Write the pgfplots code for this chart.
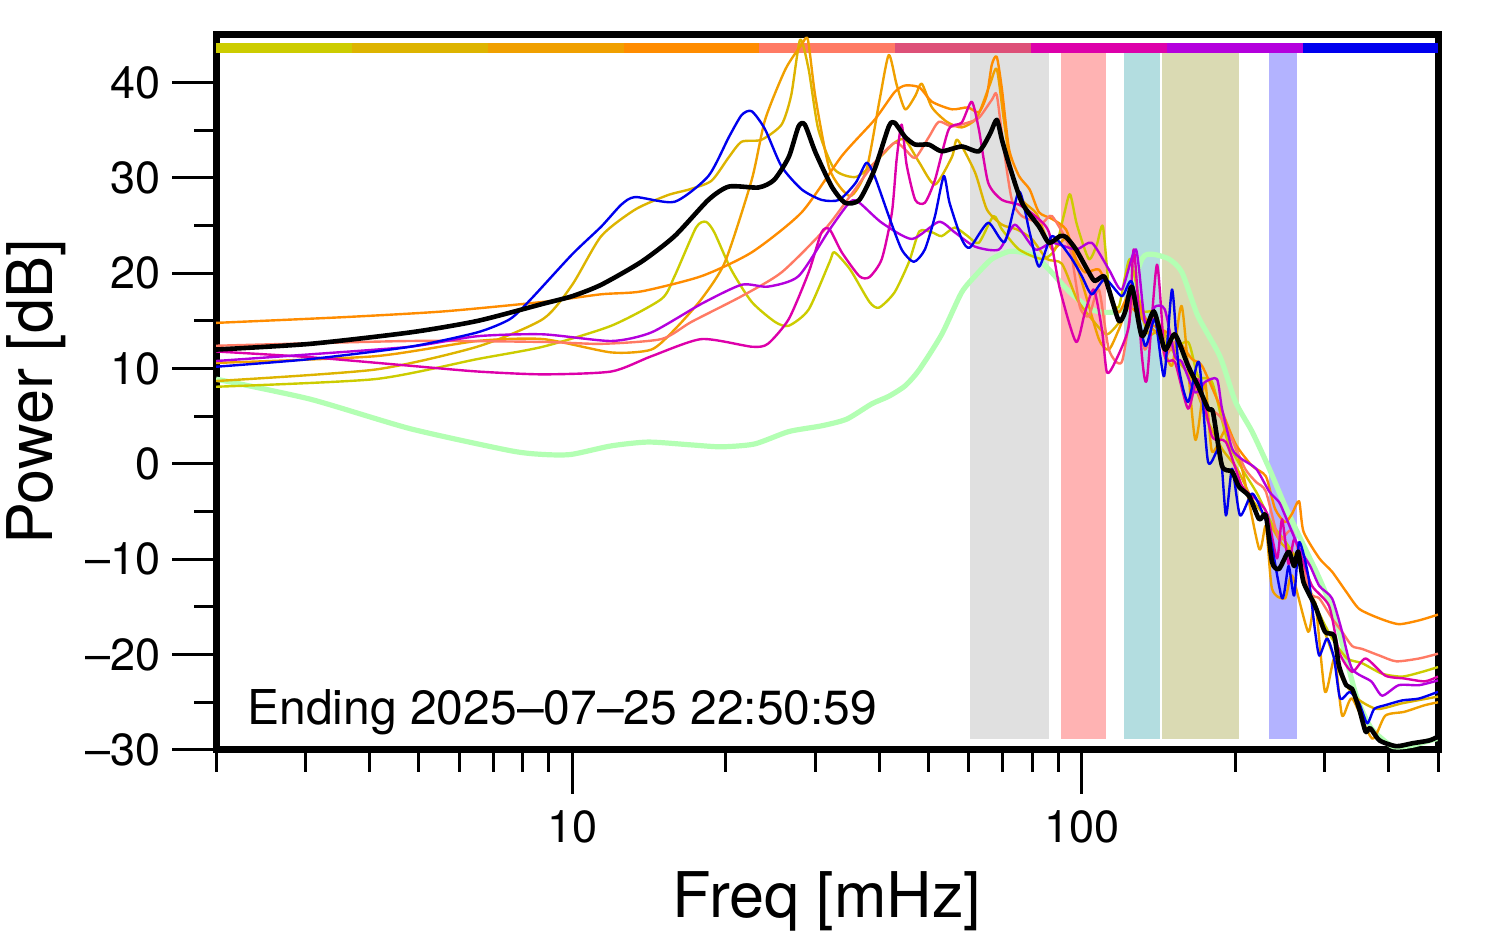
\documentclass[border=0pt]{standalone}
\usepackage{pgfplots}
\pgfplotsset{compat=1.18}
\usepackage{fontspec}
\setmainfont{TeX Gyre Heros}
\definecolor{cyg}{RGB}{204,204,0}
\definecolor{cgold}{RGB}{221,180,0}
\definecolor{corange}{RGB}{240,160,0}
\definecolor{cdorange}{RGB}{255,140,0}
\definecolor{csalmon}{RGB}{255,122,100}
\definecolor{cpinkred}{RGB}{221,80,120}
\definecolor{cmagenta}{RGB}{221,0,170}
\definecolor{cpurple}{RGB}{180,0,221}
\definecolor{cblue}{RGB}{0,0,238}
\definecolor{cgreen}{RGB}{179,255,179}
\definecolor{bgray}{RGB}{224,224,224}
\definecolor{bpink}{RGB}{255,179,179}
\definecolor{bteal}{RGB}{179,221,224}
\definecolor{bolive}{RGB}{218,218,179}
\definecolor{blav}{RGB}{179,179,255}
\begin{document}
\begin{tikzpicture}
\begin{axis}[
  scale only axis, width=611bp, height=358bp,
  xmode=log, xmin=2, xmax=500, ymin=-30, ymax=45.1,
  axis line style={line width=3.5bp},
  xtick={10,100}, xticklabels={10,100},
  minor xtick={2,3,4,5,6,7,8,9,20,30,40,50,60,70,80,90,200,300,400,500},
  ytick={-30,-20,-10,0,10,20,30,40},
  yticklabels={\textendash30,\textendash20,\textendash10,0,10,20,30,40},
  minor ytick={-25,-15,-5,5,15,25,35},
  tick align=outside, tick pos=left,
  major tick length=22bp, minor tick length=11bp,
  every tick/.style={black, line width=1.5bp},
  tick label style={font=\fontsize{22.5bp}{27bp}\selectfont},
  xticklabel style={yshift=-5bp},
  yticklabel style={xshift=-2bp},
  xlabel={Freq [mHz]}, ylabel={Power [dB]},
  label style={font=\fontsize{31.5bp}{36bp}\selectfont},
  xlabel style={at={(axis description cs:0.5,-0.2346)}, anchor=base},
  ylabel style={at={(axis description cs:-0.134,0.5)}, anchor=base, rotate=0},
  every axis plot/.append style={line join=round},
]
% shaded bands
\addplot[fill=bgray, draw=none] coordinates {(60.3,-28.8) (86.2,-28.8) (86.2,43.1) (60.3,43.1)} -- cycle;
\addplot[fill=bpink, draw=none] coordinates {(91,-28.8) (111.5,-28.8) (111.5,43.1) (91,43.1)} -- cycle;
\addplot[fill=bteal, draw=none] coordinates {(121,-28.8) (142.3,-28.8) (142.3,43.1) (121,43.1)} -- cycle;
\addplot[fill=bolive, draw=none] coordinates {(143.6,-28.8) (203.5,-28.8) (203.5,43.1) (143.6,43.1)} -- cycle;
\addplot[fill=blav, draw=none] coordinates {(233.3,-28.8) (264.5,-28.8) (264.5,43.1) (233.3,43.1)} -- cycle;
% colour bar
\addplot[fill=cyg, draw=none] coordinates {(2,43.1) (3.695,43.1) (3.695,44.2) (2,44.2)} -- cycle;
\addplot[fill=cgold, draw=none] coordinates {(3.695,43.1) (6.826,43.1) (6.826,44.2) (3.695,44.2)} -- cycle;
\addplot[fill=corange, draw=none] coordinates {(6.826,43.1) (12.61,43.1) (12.61,44.2) (6.826,44.2)} -- cycle;
\addplot[fill=cdorange, draw=none] coordinates {(12.61,43.1) (23.30,43.1) (23.30,44.2) (12.61,44.2)} -- cycle;
\addplot[fill=csalmon, draw=none] coordinates {(23.30,43.1) (43.04,43.1) (43.04,44.2) (23.30,44.2)} -- cycle;
\addplot[fill=cpinkred, draw=none] coordinates {(43.04,43.1) (79.52,43.1) (79.52,44.2) (43.04,44.2)} -- cycle;
\addplot[fill=cmagenta, draw=none] coordinates {(79.52,43.1) (146.9,43.1) (146.9,44.2) (79.52,44.2)} -- cycle;
\addplot[fill=cpurple, draw=none] coordinates {(146.9,43.1) (271.4,43.1) (271.4,44.2) (146.9,44.2)} -- cycle;
\addplot[fill=cblue, draw=none] coordinates {(271.4,43.1) (500,43.1) (500,44.2) (271.4,44.2)} -- cycle;
% light green
\addplot[cgreen, line width=2.6bp, smooth, tension=0.4] coordinates {
(2.0,8.9) (3.06,6.8) (4.81,3.7) (7.55,1.4) (8.76,1.0) (9.95,1.0) (11.93,1.9) (14.1,2.3) (17.13,2.0) (19.63,1.8) (22.8,2.1) (26.6,3.4) (30.85,4.0) (34.55,4.7) (38.69,6.3) (41.8,7.1) (45.0,8.2) (48.0,9.9) (53.1,13.6) (58.1,18.0) (62.2,19.9) (66.6,21.5) (72.0,22.3) (76.3,22.2) (81.0,21.8) (86.2,20.4) (94.8,18.0) (104.6,16.2) (113.0,15.9) (121.5,16.5) (131.2,21.5) (137.3,22.0) (148.2,21.5) (157.2,20.1) (169.0,15.5) (186.6,11.3) (200.3,6.5) (215.8,3.4) (233.3,-0.5) (250.5,-4.4) (270.5,-8.2) (292.5,-12.0) (313.3,-15.9) (330.2,-20.4) (347.0,-24.6) (369.7,-27.7) (406.5,-29.6) (445.0,-29.5) (498,-28.8)};
% yellow-green
\addplot[cyg, line width=1.2bp, smooth, tension=0.4] coordinates {
(2.0,8.1) (4.1,8.9) (6.51,11.0) (8.76,12.3) (11.93,14.5) (14.96,17.3) (15.88,19.7) (17.5,24.8) (18.3,25.4) (19.0,24.3) (20.5,20.4) (22.5,17.0) (25.0,14.9) (26.6,14.5) (29.1,16.2) (32.0,21.2) (32.7,22.2) (35.1,20.4) (38.3,17.0) (40.0,16.4) (42.9,18.0) (45.8,21.2) (48.0,24.4) (50.8,24.3) (53.1,23.9) (56.3,24.8) (59.7,23.9) (62.8,23.2) (67.1,26.0) (69.7,24.6) (75.3,22.5) (83.5,21.5) (88.6,22.5) (92.3,26.2) (94.8,28.3) (97.8,25.1) (103.2,21.5) (107.0,23.0) (110.0,24.9) (113.5,17.6) (118.2,16.5) (124.2,21.5) (131.2,16.2) (139.2,15.9) (148.2,12.0) (161.6,12.8) (169.0,9.2) (180.1,8.6) (192.7,2.6) (206.2,-0.5) (220.8,-3.1) (236.2,-6.3) (252.8,-8.4) (270.5,-11.0) (289.6,-15.2) (309.8,-18.3) (331.6,-20.4) (354.9,-20.9) (388.5,-22.0) (425.3,-22.3) (465.6,-21.8) (500,-21.3)};
% gold
\addplot[cgold, line width=1.2bp, smooth, tension=0.4] coordinates {
(2.0,8.7) (4.1,9.9) (6.51,12.3) (8.76,15.2) (10,18.8) (11.4,23.9) (13.3,26.7) (15.4,28.2) (16.98,28.8) (18.76,29.7) (20.3,32.2) (21.5,33.8) (23.5,34.0) (25.75,35.6) (26.9,38.7) (28.0,44.5) (29.1,41.4) (30.4,35.1) (32.7,30.9) (36.0,30.1) (39.2,31.6) (42.9,33.7) (45.0,34.0) (48.0,31.6) (51.5,29.3) (55.6,32.2) (57.0,34.0) (61.7,30.6) (65.1,26.7) (69.7,25.1) (74.6,24.6) (79.8,23.6) (85.4,21.5) (91.4,21.0) (97.8,17.3) (104.6,15.2) (112.0,13.6) (119.8,15.2) (127.1,17.3) (135.4,13.6) (143.6,14.1) (153.7,11.0) (164.5,8.9) (176.1,4.7) (188.4,1.6) (201.7,-0.5) (215.8,-3.7) (231.0,-5.8) (247.1,-8.4) (264.5,-9.9) (283.1,-14.1) (302.9,-18.3) (324.2,-22.5) (347.0,-24.6) (379.9,-25.7) (425.3,-25.1) (500,-24.4)};
% orange
\addplot[corange, line width=1.2bp, smooth, tension=0.4] coordinates {
(2.0,10.6) (4.1,11.3) (6.51,12.9) (8.76,13.1) (11.93,11.7) (14.3,12.0) (15.88,14.1) (17.93,17.3) (19.95,21.2) (22.5,29.8) (23.9,36.1) (26.2,41.4) (28.2,44.0) (29.0,44.5) (30.0,38.5) (32.0,30.9) (35.1,28.1) (37.8,30.9) (40.1,38.2) (41.8,42.9) (43.3,39.8) (45.0,37.2) (47.1,38.6) (48.5,39.9) (50.8,37.4) (54.3,35.9) (58.1,35.3) (62.2,36.3) (66.0,39.8) (68.1,41.4) (70.3,36.1) (72.9,30.4) (76.3,27.7) (81.6,26.2) (87.4,22.5) (93.5,23.6) (100,19.1) (108.0,13.1) (113.0,12.0) (118.2,14.1) (123.7,16.5) (133.0,14.9) (141.7,13.4) (150.3,10.3) (157.2,16.5) (166.8,2.6) (174.5,8.6) (180.1,1.3) (192.7,3.7) (206.2,-0.5) (222.8,-8.9) (229.7,-6.5) (236.2,-13.1) (250.5,-14.1) (258.6,-11.7) (278.1,-17.6) (287.0,-14.5) (300.0,-23.9) (313.3,-20.4) (324.2,-26.4) (339.2,-24.6) (371.3,-28.8) (394.0,-26.4) (429.2,-26.0) (471.0,-25.3) (500,-25.0)};
% dark orange
\addplot[cdorange, line width=1.2bp, smooth, tension=0.4] coordinates {
(2.0,14.8) (3.56,15.4) (5.58,16.0) (8.76,17.0) (11.4,17.8) (13.66,18.1) (17.93,19.7) (22.5,22.2) (28.2,26.4) (33.8,32.3) (39.2,36.1) (42.9,39.0) (45.0,39.7) (48.0,39.5) (50.8,38.0) (55.6,37.2) (59.7,37.4) (62.8,36.9) (65.1,38.7) (66.6,41.9) (68.1,42.7) (69.7,39.3) (72.0,33.0) (75.3,30.2) (79.0,28.8) (82.4,26.4) (87.4,25.7) (93.1,24.6) (97.4,21.5) (101.4,20.1) (108.0,20.4) (113.0,18.3) (118.2,15.9) (125.4,18.3) (134.2,15.0) (143.6,14.1) (153.7,13.1) (164.5,11.0) (172.1,10.3) (186.6,6.1) (200.3,2.1) (215.8,-0.2) (229.7,-1.3) (239.4,-4.7) (250.5,-6.1) (258.6,-5.2) (266.9,-3.9) (272.3,-7.1) (292.5,-9.9) (309.8,-11.3) (330.2,-13.4) (350.2,-15.2) (383.9,-16.2) (418.7,-16.8) (459.2,-16.4) (500,-15.8)};
% salmon
\addplot[csalmon, line width=1.2bp, smooth, tension=0.4] coordinates {
(2.0,12.4) (4.81,12.9) (8.76,12.8) (11.4,12.6) (14.96,13.1) (17.13,14.9) (21.5,17.6) (25.75,20.1) (31.3,24.6) (35.1,28.1) (39.2,31.6) (42.9,33.7) (45.0,33.0) (47.1,32.1) (50.1,34.3) (52.4,35.9) (55.6,35.4) (59.7,35.8) (62.8,36.3) (66.6,38.2) (68.1,38.7) (70.3,33.0) (72.9,27.7) (76.3,26.0) (83.5,25.3) (87.4,26.0) (94.8,22.5) (99.1,16.5) (103.2,15.5) (108.0,18.3) (113.0,12.0) (119.8,10.7) (126.5,17.3) (133.0,12.0) (139.2,15.5) (145.5,11.3) (152.3,12.8) (161.6,10.7) (172.1,6.5) (186.6,5.0) (197.2,2.6) (209.1,-0.5) (219.8,-1.9) (229.7,-2.9) (243.8,-7.9) (258.6,-7.1) (280.5,-13.4) (292.5,-14.1) (309.8,-16.2) (324.2,-17.6) (339.2,-19.1) (354.9,-19.4) (383.9,-20.1) (414.0,-20.7) (459.2,-20.4) (500,-19.9)};
% magenta
\addplot[cmagenta, line width=1.2bp, smooth, tension=0.4] coordinates {
(2.0,11.8) (3.06,11.2) (4.81,10.3) (6.51,9.7) (8.76,9.4) (11.93,9.7) (14.3,11.3) (17.93,13.1) (22.5,12.3) (24.2,12.6) (26.6,15.2) (29.1,20.1) (30.85,24.3) (32.0,24.6) (33.8,22.2) (36.6,19.7) (38.3,19.6) (40.5,21.5) (42.4,26.4) (43.3,31.9) (44.3,35.6) (45.3,31.4) (47.1,27.7) (49.2,27.4) (51.5,29.8) (54.8,35.1) (58.1,35.8) (60.8,38.0) (62.8,35.1) (65.5,29.5) (69.7,27.7) (75.3,27.2) (81.0,26.0) (86.2,24.3) (90.6,18.3) (97.4,12.8) (101.4,15.9) (105.6,18.3) (109.5,14.1) (112.0,9.6) (116.2,10.7) (123.7,14.5) (126.5,22.5) (131.2,11.3) (134.2,8.9) (140.4,20.9) (145.5,11.3) (152.3,10.7) (161.6,5.8) (169.0,8.9) (180.1,2.9) (191.8,2.3) (206.2,-2.3) (219.8,-3.7) (231.0,-5.2) (241.6,-9.9) (247.1,-5.8) (254.5,-10.5) (261.0,-7.9) (270.5,-9.9) (283.1,-12.8) (305.7,-14.9) (319.7,-19.7) (339.2,-21.8) (360.6,-20.4) (394.0,-22.2) (429.2,-22.5) (471.0,-22.8) (500,-22.3)};
% purple
\addplot[cpurple, line width=1.2bp, smooth, tension=0.4] coordinates {
(2.0,10.8) (3.06,11.5) (4.81,12.3) (6.51,13.4) (8.76,13.6) (11.93,12.9) (14.3,13.8) (17.93,16.8) (21.5,18.8) (24.2,18.6) (27.8,19.7) (32.0,24.6) (35.1,27.5) (36.6,27.4) (40.5,25.3) (46.4,23.6) (52.4,25.4) (56.3,24.3) (61.7,22.8) (68.8,22.5) (73.9,25.1) (81.0,22.5) (87.4,23.2) (97.4,22.5) (104.6,23.2) (113.0,20.4) (119.8,18.3) (127.7,22.5) (133.0,14.9) (139.2,16.5) (145.5,16.2) (152.3,11.3) (157.2,10.7) (166.8,7.5) (174.5,8.6) (184.2,8.9) (188.4,5.8) (197.2,1.6) (206.2,0.5) (219.8,-0.5) (233.3,-2.9) (243.8,-4.0) (250.5,-5.4) (265.8,-8.6) (280.5,-10.7) (292.5,-12.8) (309.8,-14.1) (324.2,-17.6) (339.2,-21.5) (369.7,-22.8) (388.5,-24.3) (418.7,-23.2) (459.2,-23.2) (500,-22.7)};
% blue
\addplot[cblue, line width=1.2bp, smooth, tension=0.4] coordinates {
(2.0,10.2) (3.06,11.0) (4.81,12.3) (6.51,13.8) (7.55,15.2) (8.3,17.3) (10,22.0) (11.4,24.9) (12.48,27.2) (13.3,28.0) (15.88,27.5) (18.5,30.2) (20.3,34.3) (21.5,36.6) (22.5,37.0) (23.9,35.1) (25.75,31.2) (28.2,28.8) (30.85,27.7) (33.4,27.7) (36.0,29.5) (37.8,31.6) (39.2,30.2) (41.8,26.0) (44.3,22.5) (46.8,21.2) (49.2,22.5) (51.5,26.0) (53.6,30.2) (55.0,27.4) (58.1,23.6) (60.3,22.7) (65.5,25.3) (70.6,23.3) (75.3,28.6) (79.0,24.3) (82.4,20.7) (87.4,23.9) (94.8,21.8) (100,19.7) (104.6,17.8) (111.1,19.4) (119.8,17.6) (125.4,19.1) (133.0,12.4) (139.2,15.2) (145.0,9.2) (150.3,18.3) (154.8,10.3) (161.6,6.5) (169.8,10.7) (176.9,0.2) (186.6,1.6) (191.8,-5.4) (197.2,-0.5) (204.4,-5.4) (215.8,-3.1) (225.8,-5.0) (233.3,-7.1) (247.1,-14.1) (254.5,-10.7) (261.0,-13.8) (267.0,-8.2) (278.1,-11.7) (287.0,-17.6) (292.5,-20.1) (302.9,-18.3) (312.6,-20.4) (321.3,-24.6) (335.6,-23.9) (350.2,-25.1) (363.1,-27.2) (374.7,-25.7) (394.0,-25.3) (425.3,-24.8) (459.2,-24.6) (500,-23.9)};
% black
\addplot[black, line width=2.3bp, smooth, tension=0.4] coordinates {
(2.0,12.0) (3.06,12.6) (4.81,13.8) (6.51,15.0) (8.76,16.8) (10,17.6) (11.4,18.8) (13.66,21.2) (15.88,23.9) (18.5,27.7) (20.3,29.1) (23.2,29.0) (24.9,29.8) (26.6,32.2) (27.8,35.4) (28.6,35.6) (30.0,32.7) (32.3,29.1) (34.3,27.4) (36.6,27.7) (39.2,30.9) (41.8,35.4) (42.9,35.8) (45.0,34.3) (47.1,33.5) (50.1,33.5) (53.1,32.8) (58.1,33.3) (62.8,32.8) (66.0,34.6) (68.1,36.1) (69.7,34.0) (72.0,31.4) (76.3,27.4) (82.4,24.9) (86.2,23.2) (90.6,23.9) (93.1,23.8) (97.4,22.5) (103.2,20.1) (106.0,19.2) (110.5,19.7) (113.0,18.3) (118.2,15.0) (121.5,15.9) (125.4,18.6) (131.2,13.4) (138.5,16.0) (145.5,12.0) (152.3,13.6) (161.6,10.3) (169.0,8.2) (176.9,5.8) (180.9,5.4) (188.4,-0.2) (197.2,-0.8) (203.5,-2.4) (213.1,-3.4) (222.8,-5.8) (229.7,-5.4) (236.2,-10.3) (243.8,-11.0) (254.5,-9.2) (261.0,-10.7) (265.8,-9.2) (272.3,-12.4) (287.0,-14.9) (300.0,-17.6) (312.6,-18.0) (319.7,-21.2) (330.2,-23.2) (339.2,-23.6) (350.2,-25.7) (360.6,-28.1) (367.9,-27.7) (383.9,-29.0) (414.0,-29.6) (445.0,-29.3) (480.7,-29.0) (500,-28.6)};
\node[anchor=base west, inner sep=0pt, font=\fontsize{24bp}{29bp}\selectfont] at (axis description cs:0.0254,0.035) {Ending 2025\textendash07\textendash25 22:50:59};
\coordinate (bbl) at (axis description cs:-0.1768,-0.282);
\coordinate (btr) at (axis description cs:1.0458,1.0475);
\end{axis}
\pgfresetboundingbox
\path[use as bounding box] (bbl) rectangle (btr);
\end{tikzpicture}
\end{document}
